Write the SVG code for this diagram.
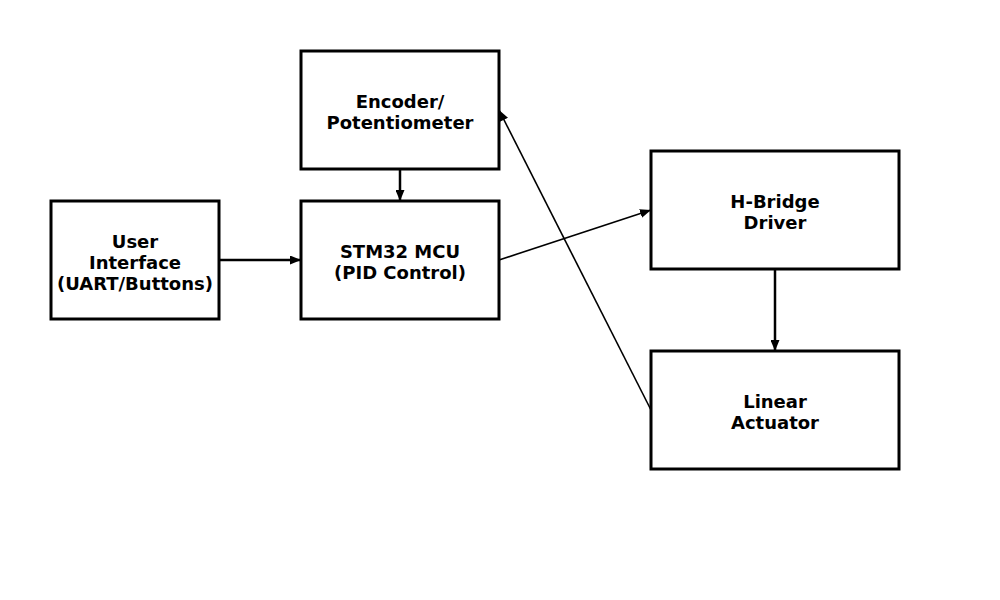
<svg xmlns="http://www.w3.org/2000/svg" width="1000" height="600" viewBox="0 0 1000 600">
<defs>
<style>
.box{fill:#fff;stroke:#000;stroke-width:3}
.lbl{font-family:"DejaVu Sans",sans-serif;font-weight:bold;font-size:18px;fill:#000;text-anchor:middle}
.thick{stroke:#000;stroke-width:2.5;fill:none}
.thin{stroke:#000;stroke-width:1.6;fill:none}
</style>
<marker id="ah" viewBox="0 0 11 9" refX="11" refY="4.5" markerWidth="11" markerHeight="9" markerUnits="userSpaceOnUse" orient="auto">
<path d="M0,0 L11,4.5 L0,9 Z" fill="#000"/>
</marker>
</defs>
<rect width="1000" height="600" fill="#fff"/>
<g id="connectors">
<line class="thick" x1="400" y1="169" x2="400" y2="201" marker-end="url(#ah)"/>
<line class="thick" x1="219" y1="260" x2="301" y2="260" marker-end="url(#ah)"/>
<line class="thin" x1="499" y1="260" x2="651" y2="210" marker-end="url(#ah)"/>
<line class="thick" x1="775" y1="269" x2="775" y2="351" marker-end="url(#ah)"/>
<line class="thin" x1="651" y1="410" x2="499" y2="110" marker-end="url(#ah)"/>
</g>
<g id="encoder">
<rect class="box" x="301" y="51" width="198" height="118"/>
<text class="lbl" x="400" y="108">Encoder/</text>
<text class="lbl" x="400" y="129">Potentiometer</text>
</g>
<g id="ui">
<rect class="box" x="51" y="201" width="168" height="118"/>
<text class="lbl" x="135" y="247.5">User</text>
<text class="lbl" x="135" y="268.5">Interface</text>
<text class="lbl" x="135" y="289.5">(UART/Buttons)</text>
</g>
<g id="mcu">
<rect class="box" x="301" y="201" width="198" height="118"/>
<text class="lbl" x="400" y="258">STM32 MCU</text>
<text class="lbl" x="400" y="279">(PID Control)</text>
</g>
<g id="hbridge">
<rect class="box" x="651" y="151" width="248" height="118"/>
<text class="lbl" x="775" y="208">H-Bridge</text>
<text class="lbl" x="775" y="229">Driver</text>
</g>
<g id="actuator">
<rect class="box" x="651" y="351" width="248" height="118"/>
<text class="lbl" x="775" y="408">Linear</text>
<text class="lbl" x="775" y="429">Actuator</text>
</g>
</svg>
